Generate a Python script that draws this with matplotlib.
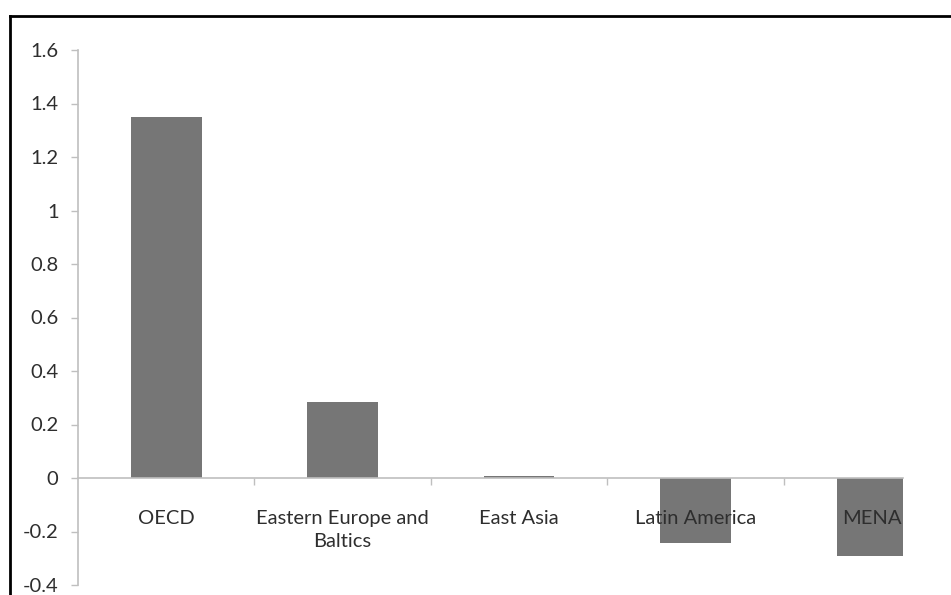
import numpy as np
import matplotlib.pyplot as plt
from matplotlib.lines import Line2D
from matplotlib.ticker import FuncFormatter

regions = ["OECD", "Eastern Europe and\nBaltics", "East Asia", "Latin America", "MENA"]
values = [1.35, 0.285, 0.008, -0.243, -0.29]

bar_color = "#767676"
axis_color = "#bfbfbf"
text_color = "#2e2e2e"

plt.rcParams['font.family'] = ['Lato', 'DejaVu Sans']

fig = plt.figure(figsize=(9.51, 5.95), dpi=100)
ax = fig.add_axes([78/951, 1 - 585/595, (903 - 78)/951, (585 - 50)/595])

x = np.arange(len(regions))
ax.bar(x, values, width=0.4, color=bar_color, zorder=1)

ax.set_xlim(-0.5, 4.176)
ax.set_ylim(-0.4, 1.6)
ax.set_yticks(np.arange(-0.4, 1.61, 0.2))
ax.yaxis.set_major_formatter(FuncFormatter(lambda v, p: f"{v:.1f}".rstrip('0').rstrip('.') if abs(v) > 1e-9 else "0"))

for s in ['top', 'right']:
    ax.spines[s].set_visible(False)
ax.spines['left'].set_color(axis_color)
ax.spines['left'].set_linewidth(1.2)
ax.spines['bottom'].set_position(('data', 0))
ax.spines['bottom'].set_color(axis_color)
ax.spines['bottom'].set_linewidth(1.2)

ax.tick_params(axis='y', direction='out', length=5, width=1, color=axis_color,
               pad=9, labelsize=14.5, labelcolor=text_color)

ax.set_xticks(x)
ax.set_xticklabels(regions, linespacing=1.45)
ax.set_xticks(np.arange(0.5, 4, 1), minor=True)
ax.tick_params(axis='x', which='major', length=0, pad=23, labelsize=14.5, labelcolor=text_color)
ax.tick_params(axis='x', which='minor', direction='out', length=5, width=1, color=axis_color)

# outer frame (left and top only, picture cut at right and bottom)
fig.add_artist(Line2D([10/951, 10/951], [0, 1 - 16/595], transform=fig.transFigure, color='black', lw=2))
fig.add_artist(Line2D([10/951, 1], [1 - 16/595, 1 - 16/595], transform=fig.transFigure, color='black', lw=2))

fig.savefig("out.png", dpi=100)
